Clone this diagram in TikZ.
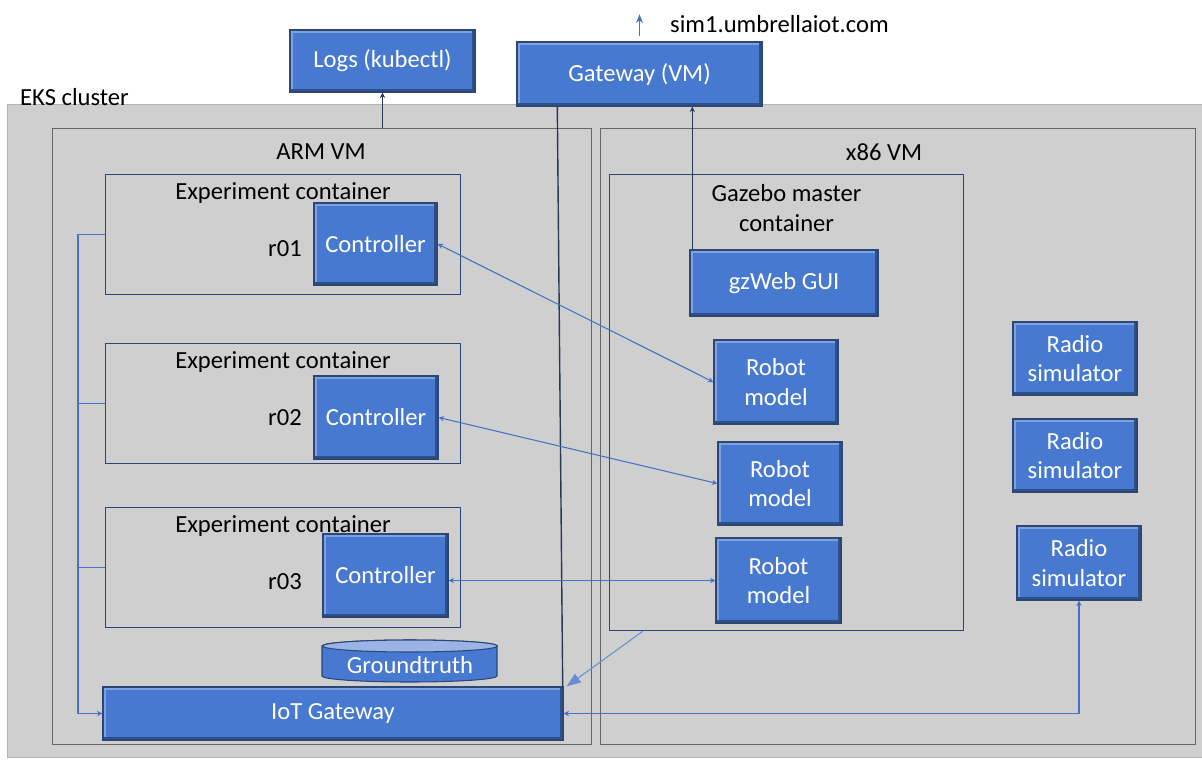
\documentclass[tikz,border=0pt]{standalone}
\usepackage{fontspec}
\setmainfont{Carlito}
\usetikzlibrary{arrows.meta}
\tikzset{>=Stealth}
\newcommand{\pxu}{0.02cm}
\definecolor{boxblue}{RGB}{72,121,208}
\definecolor{boxedge}{RGB}{44,70,118}
\definecolor{clgray}{RGB}{207,207,207}
\definecolor{linkblue}{RGB}{68,114,196}
\definecolor{navy}{RGB}{40,56,88}
\tikzset{
  sz/.style 2 args={minimum width=#1*\pxu, minimum height=#2*\pxu, inner sep=0pt},
  blk/.style={draw=boxedge, fill=boxblue, text=white, line width=0.8pt, align=center,
    font=\fontsize{14}{17}\selectfont,
    path picture={
      \draw[line width=3.5pt, boxblue!70!white] (path picture bounding box.south west)
        -- (path picture bounding box.north west) -- (path picture bounding box.north east);
      \draw[line width=3.5pt, boxblue!65!black] (path picture bounding box.north east)
        -- (path picture bounding box.south east) -- (path picture bounding box.south west);
    }},
  vm/.style={draw=black!60, line width=0.6pt},
  cont/.style={draw=boxedge, line width=0.6pt},
  lbl/.style={font=\fontsize{14}{17}\selectfont, align=center},
  link/.style={linkblue, line width=0.6pt},
  twoway/.style={{Stealth[length=3pt,width=3pt]}-{Stealth[length=3pt,width=3pt]}},
  oneway/.style={-{Stealth[length=3pt,width=3pt]}}
}
\begin{document}
\begin{tikzpicture}[x=\pxu, y=-\pxu]
  \useasboundingbox (0,0) rectangle (1202,760);
  % cluster and VMs
  \node[draw=black!30, fill=clgray, sz={1195}{653}, anchor=north west] (eks) at (7,104) {};
  \node[lbl, anchor=base west] (ekslbl) at (14,106) {EKS cluster};
  \node[vm, sz={539}{616}, anchor=north west] (arm) at (52,128) {};
  \node[vm, sz={595}{616}, anchor=north west] (x86) at (600,128) {};
  \node[lbl] (armlbl) at (321,152) {ARM VM};
  \node[lbl] (x86lbl) at (884,152) {x86 VM};

  % outside
  \node[blk, sz={185}{62}] (logs) at (382.5,61) {Logs (kubectl)};
  \node[blk, sz={245}{64}] (gw) at (639.5,74) {Gateway (VM)};
  \node[anchor=west, font=\fontsize{14}{17}\selectfont] (simlbl) at (664,24) {sim1.umbrellaiot.com};

  % ARM side
  \foreach \i/\y/\r in {1/174/r01, 2/343/r02, 3/507/r03} {
    \node[cont, sz={355}{120}, anchor=north west] (exp\i) at (105,\y) {};
    \node[lbl, anchor=north] (explbl\i) at ([yshift=-2*\pxu]exp\i.north) {Experiment container};
    \node[lbl] (rlbl\i) at (285,\y+75) {\r};
  }
  \node[blk, sz={123}{82}] (ctl1) at (375.5,244) {Controller};
  \node[blk, sz={124}{83}] (ctl2) at (376,417.5) {Controller};
  \node[blk, sz={125}{83}] (ctl3) at (385.5,575.5) {Controller};
  % groundtruth drum
  \filldraw[fill=boxblue, draw=boxedge, line width=0.6pt] (322,646) -- (322,676)
    arc[start angle=180, end angle=360, x radius=87.5*\pxu, y radius=6*\pxu] -- (497,646)
    arc[start angle=0, end angle=180, x radius=87.5*\pxu, y radius=6*\pxu] -- cycle;
  \filldraw[fill=boxblue!55!white, draw=boxedge, line width=0.6pt] (410,646)
    ellipse[x radius=87.5*\pxu, y radius=6*\pxu];
  \node[text=white, font=\fontsize{14}{17}\selectfont, sz={175}{30}] (gt) at (410,665) {Groundtruth};
  \node[blk, sz={460}{53}] (iot) at (333,713.5) {IoT Gateway};

  % x86 side
  \node[cont, sz={354}{456}, anchor=north west] (gaz) at (609,174) {};
  \node[lbl, anchor=north] (gazlbl) at ([yshift=-4*\pxu]gaz.north) {Gazebo master\\container};
  \node[blk, sz={188}{66}] (gzweb) at (784,283) {gzWeb GUI};
  \node[blk, sz={124}{84}] (rob1) at (776,382) {Robot\\model};
  \node[blk, sz={124}{83}] (rob2) at (780,483.5) {Robot\\model};
  \node[blk, sz={125}{85}] (rob3) at (778.5,580.5) {Robot\\model};
  \node[blk, sz={124}{73}] (rad1) at (1075,358.5) {Radio\\simulator};
  \node[blk, sz={124}{73}] (rad2) at (1075,455.5) {Radio\\simulator};
  \node[blk, sz={124}{74}] (rad3) at (1079,563) {Radio\\simulator};

  % connectors
  \draw[navy, line width=0.8pt, oneway] (logs.south |- arm.north) -- (logs.south);
  \draw[navy, line width=0.8pt] ([xshift=41*\pxu]gw.south west) -- ([xshift=-1*\pxu]iot.north east);
  \draw[navy, line width=0.8pt, oneway] ([xshift=3*\pxu]gzweb.north west) -- ([xshift=3*\pxu]gzweb.north west |- gw.south);
  \draw[link, -{Stealth[length=5pt,width=4pt]}] ([yshift=5*\pxu]gw.north) -- ([yshift=27*\pxu]gw.north);
  \draw[link, twoway] (ctl1.east) -- (rob1.west);
  \draw[link, twoway] (ctl2.east) -- (rob2.west);
  \draw[link, twoway] (rob3.west -| ctl3.east) -- (rob3.west);
  \draw[link, oneway] (exp1.west) -- ++(-27,0) coordinate (bustop) |- (iot.west);
  \draw[link] (exp2.west) -- (exp2.west -| bustop);
  \draw[link] (exp3.west) -- (exp3.west -| bustop);
  \draw[link, twoway] (iot.east) -| (rad3.south);
  \draw[link, linkblue!80, -{Triangle[length=8pt,width=6pt]}] ([xshift=34*\pxu]gaz.south west) -- ([xshift=3*\pxu]iot.north east);
\end{tikzpicture}
\end{document}
